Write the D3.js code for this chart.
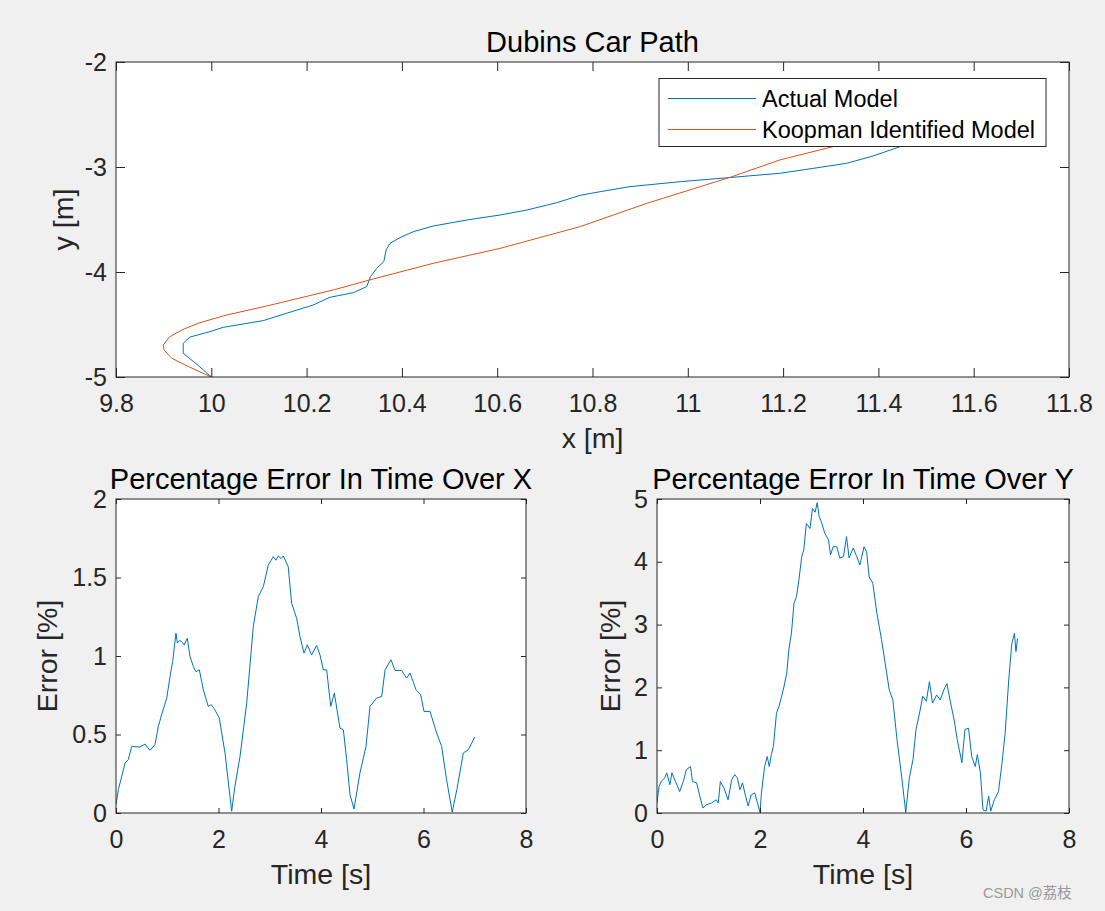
<!DOCTYPE html>
<html>
<head>
<meta charset="utf-8">
<script src="https://cdn.jsdelivr.net/npm/d3@7"></script>
<style>
  html, body { margin: 0; padding: 0; background: #f0f0f0; }
  svg { display: block; }
  text { font-family: "Liberation Sans", Arial, Helvetica, sans-serif; }
</style>
</head>
<body>
<svg id="chart" width="1105" height="911"></svg>
<script>
// ---------- DATA ----------
const actualX = [10.0, 9.97, 9.941, 9.941, 9.955, 9.997, 10.025, 10.067, 10.109, 10.158, 10.214, 10.249, 10.298, 10.326, 10.334, 10.347, 10.362, 10.367, 10.375, 10.396, 10.424, 10.466, 10.536, 10.606, 10.662, 10.725, 10.774, 10.816, 10.879, 10.984, 11.089, 11.193, 11.263, 11.333, 11.389, 11.442, 11.47];
const actualY = [-5.0, -4.88, -4.774, -4.68, -4.62, -4.568, -4.527, -4.495, -4.463, -4.393, -4.314, -4.241, -4.197, -4.14, -4.045, -3.965, -3.902, -3.79, -3.727, -3.673, -3.616, -3.562, -3.505, -3.457, -3.41, -3.34, -3.27, -3.235, -3.187, -3.14, -3.10, -3.06, -3.013, -2.965, -2.895, -2.812, -2.76];

const koopX = [10.0, 9.952, 9.917, 9.901, 9.899, 9.913, 9.941, 9.976, 10.032, 10.116, 10.256, 10.337, 10.466, 10.606, 10.774, 10.914, 11.089, 11.193, 11.305, 11.34];
const koopY = [-5.0, -4.90, -4.822, -4.743, -4.695, -4.616, -4.546, -4.483, -4.41, -4.324, -4.171, -4.07, -3.917, -3.775, -3.568, -3.346, -3.098, -2.933, -2.806, -2.76];

const errXTime = [0, 0.046, 0.176, 0.24, 0.306, 0.468, 0.566, 0.663, 0.76, 0.826, 0.89, 0.99, 1.054, 1.106, 1.17, 1.197, 1.24, 1.28, 1.33, 1.39, 1.444, 1.509, 1.56, 1.626, 1.704, 1.8, 1.86, 1.93, 2.016, 2.127, 2.257, 2.32, 2.42, 2.55, 2.68, 2.777, 2.875, 2.972, 3.07, 3.12, 3.167, 3.22, 3.265, 3.36, 3.428, 3.525, 3.59, 3.668, 3.733, 3.817, 3.915, 3.98, 4.045, 4.11, 4.19, 4.26, 4.37, 4.436, 4.5, 4.566, 4.644, 4.76, 4.878, 4.956, 5.086, 5.184, 5.25, 5.366, 5.444, 5.574, 5.67, 5.737, 5.854, 5.945, 6.01, 6.127, 6.257, 6.354, 6.45, 6.56, 6.65, 6.777, 6.875, 6.94, 7.0];
const errXValue = [0.053, 0.148, 0.318, 0.34, 0.424, 0.42, 0.439, 0.399, 0.435, 0.551, 0.626, 0.732, 0.87, 0.965, 1.145, 1.082, 1.10, 1.092, 1.07, 1.113, 0.997, 0.933, 0.90, 0.912, 0.785, 0.679, 0.69, 0.657, 0.604, 0.382, 0.011, 0.17, 0.36, 0.70, 1.19, 1.379, 1.442, 1.58, 1.633, 1.61, 1.637, 1.62, 1.637, 1.569, 1.336, 1.24, 1.124, 1.018, 1.071, 1.007, 1.067, 1.007, 0.912, 0.912, 0.679, 0.764, 0.541, 0.53, 0.34, 0.117, 0.025, 0.255, 0.424, 0.679, 0.732, 0.742, 0.912, 0.976, 0.908, 0.908, 0.859, 0.891, 0.785, 0.753, 0.647, 0.647, 0.509, 0.424, 0.212, 0.006, 0.148, 0.382, 0.403, 0.445, 0.484];

const errYTime = [0, 0.04, 0.08, 0.15, 0.19, 0.25, 0.29, 0.36, 0.44, 0.51, 0.57, 0.65, 0.69, 0.77, 0.83, 0.89, 0.96, 1.06, 1.15, 1.19, 1.23, 1.30, 1.38, 1.45, 1.51, 1.56, 1.61, 1.66, 1.72, 1.77, 1.83, 1.90, 1.94, 2.0, 2.03, 2.09, 2.14, 2.18, 2.22, 2.26, 2.32, 2.37, 2.42, 2.46, 2.52, 2.56, 2.61, 2.66, 2.71, 2.76, 2.81, 2.85, 2.90, 2.97, 3.02, 3.07, 3.11, 3.15, 3.19, 3.26, 3.33, 3.37, 3.42, 3.49, 3.55, 3.62, 3.68, 3.73, 3.81, 3.88, 3.94, 4.02, 4.07, 4.12, 4.19, 4.27, 4.36, 4.45, 4.51, 4.58, 4.66, 4.75, 4.83, 4.90, 4.97, 5.03, 5.11, 5.16, 5.23, 5.29, 5.35, 5.43, 5.50, 5.57, 5.63, 5.69, 5.77, 5.83, 5.92, 5.98, 6.05, 6.11, 6.18, 6.22, 6.28, 6.33, 6.39, 6.44, 6.48, 6.55, 6.63, 6.70, 6.76, 6.83, 6.89, 6.94, 6.97, 7.0];
const errYValue = [0.16, 0.42, 0.50, 0.56, 0.64, 0.45, 0.64, 0.50, 0.34, 0.50, 0.69, 0.74, 0.50, 0.48, 0.27, 0.08, 0.13, 0.16, 0.21, 0.16, 0.50, 0.40, 0.21, 0.53, 0.61, 0.56, 0.37, 0.48, 0.27, 0.11, 0.29, 0.32, 0.19, 0.01, 0.34, 0.74, 0.90, 0.74, 0.93, 1.06, 1.59, 1.70, 1.86, 1.99, 2.23, 2.60, 2.86, 3.34, 3.45, 3.74, 4.08, 4.19, 4.61, 4.53, 4.85, 4.79, 4.94, 4.72, 4.64, 4.45, 4.35, 4.11, 4.24, 4.24, 4.06, 4.08, 4.40, 4.06, 4.22, 4.08, 3.95, 4.24, 4.16, 3.76, 3.66, 3.18, 2.76, 2.28, 1.96, 1.80, 1.17, 0.58, 0.01, 0.56, 0.85, 1.33, 1.64, 1.86, 1.78, 2.09, 1.75, 1.88, 1.80, 1.96, 2.06, 1.80, 1.48, 1.17, 0.80, 1.33, 1.35, 0.90, 0.74, 0.93, 0.64, 0.05, 0.03, 0.27, 0.03, 0.21, 0.34, 0.80, 1.27, 2.12, 2.70, 2.86, 2.57, 2.78];

const topXTicks = [9.8, 10, 10.2, 10.4, 10.6, 10.8, 11, 11.2, 11.4, 11.6, 11.8];
const topXTickLabels = ["9.8", "10", "10.2", "10.4", "10.6", "10.8", "11", "11.2", "11.4", "11.6", "11.8"];
const topYTicks = [-5, -4, -3, -2];
const topYTickLabels = ["-5", "-4", "-3", "-2"];
const timeTicks = [0, 2, 4, 6, 8];
const timeTickLabels = ["0", "2", "4", "6", "8"];
const errXTicks = [0, 0.5, 1, 1.5, 2];
const errXTickLabels = ["0", "0.5", "1", "1.5", "2"];
const errYTicks = [0, 1, 2, 3, 4, 5];
const errYTickLabels = ["0", "1", "2", "3", "4", "5"];

const seriesNames = ["Actual Model", "Koopman Identified Model"];
const seriesColors = ["#0072BD", "#D95319"];

// ---------- DRAWING ----------
const svg = d3.select("#chart");
const AX = "#262626";
const TICK_FONT = 25;
const LABEL_FONT = 28.5;
const TITLE_FONT = 29;

function panel(cfg) {
  const g = svg.append("g");
  const x = d3.scaleLinear().domain(cfg.xDomain).range([cfg.left, cfg.right]);
  const y = d3.scaleLinear().domain(cfg.yDomain).range([cfg.bottom, cfg.top]);

  g.append("rect")
    .attr("x", cfg.left).attr("y", cfg.top)
    .attr("width", cfg.right - cfg.left).attr("height", cfg.bottom - cfg.top)
    .attr("fill", "#ffffff");

  const clipId = "clip" + Math.round(cfg.left) + "_" + Math.round(cfg.top);
  svg.append("clipPath").attr("id", clipId).append("rect")
    .attr("x", cfg.left).attr("y", cfg.top)
    .attr("width", cfg.right - cfg.left).attr("height", cfg.bottom - cfg.top);

  const lines = g.append("g").attr("clip-path", "url(#" + clipId + ")");
  cfg.series.forEach(s => {
    const pts = s.xs.map((v, i) => [v, s.ys[i]]);
    lines.append("path")
      .attr("d", d3.line().x(d => x(d[0])).y(d => y(d[1]))(pts))
      .attr("fill", "none")
      .attr("stroke", s.color)
      .attr("stroke-width", 1)
      .attr("stroke-linejoin", "round");
  });

  const tl = cfg.tickLen;
  const styleAxis = sel => {
    sel.select(".domain").remove();
    sel.selectAll(".tick line").attr("stroke", AX).attr("stroke-width", 1);
    sel.selectAll(".tick text").attr("fill", AX).style("font-size", TICK_FONT + "px")
      .style("font-family", '"Liberation Sans", Arial, sans-serif');
  };

  g.append("g").attr("transform", `translate(0,${cfg.bottom})`)
    .call(d3.axisBottom(x).tickValues(cfg.xTicks).tickFormat((d, i) => cfg.xLabels[i])
      .tickSizeInner(-tl).tickSizeOuter(0).tickPadding(17))
    .call(styleAxis);
  g.append("g").attr("transform", `translate(0,${cfg.top})`)
    .call(d3.axisTop(x).tickValues(cfg.xTicks).tickFormat("")
      .tickSizeInner(-tl).tickSizeOuter(0))
    .call(styleAxis);
  g.append("g").attr("transform", `translate(${cfg.left},0)`)
    .call(d3.axisLeft(y).tickValues(cfg.yTicks).tickFormat((d, i) => cfg.yLabels[i])
      .tickSizeInner(-tl).tickSizeOuter(0).tickPadding(9))
    .call(styleAxis);
  g.append("g").attr("transform", `translate(${cfg.right},0)`)
    .call(d3.axisRight(y).tickValues(cfg.yTicks).tickFormat("")
      .tickSizeInner(-tl).tickSizeOuter(0))
    .call(styleAxis);

  // legend
  if (cfg.legend) {
    const L = cfg.legend;
    const lg = g.append("g");
    lg.append("rect").attr("x", L.x).attr("y", L.y).attr("width", L.w).attr("height", L.h)
      .attr("fill", "#ffffff").attr("stroke", AX).attr("stroke-width", 1);
    cfg.series.forEach((s, i) => {
      const cy = L.y + 20 + i * 31;
      lg.append("line").attr("x1", L.x + 9).attr("x2", L.x + 97).attr("y1", cy).attr("y2", cy)
        .attr("stroke", s.color).attr("stroke-width", 1);
      lg.append("text").attr("x", L.x + 103).attr("y", cy).attr("dy", "0.36em")
        .attr("fill", "#000").style("font-size", "23.5px").text(s.name);
    });
  }

  // frame
  g.append("rect")
    .attr("x", cfg.left).attr("y", cfg.top)
    .attr("width", cfg.right - cfg.left).attr("height", cfg.bottom - cfg.top)
    .attr("fill", "none").attr("stroke", AX).attr("stroke-width", 1);

  // title
  g.append("text").attr("x", (cfg.left + cfg.right) / 2).attr("y", cfg.top - 10)
    .attr("text-anchor", "middle").attr("fill", "#000")
    .style("font-size", TITLE_FONT + "px").text(cfg.title);
  // x label
  g.append("text").attr("x", (cfg.left + cfg.right) / 2).attr("y", cfg.bottom + 71)
    .attr("text-anchor", "middle").attr("fill", AX)
    .style("font-size", LABEL_FONT + "px").text(cfg.xTitle);
  // y label
  g.append("text")
    .attr("transform", `translate(${cfg.yTitleX},${(cfg.top + cfg.bottom) / 2}) rotate(-90)`)
    .attr("text-anchor", "middle").attr("fill", AX)
    .style("font-size", LABEL_FONT + "px").text(cfg.yTitle);
}

panel({
  left: 116, right: 1069, top: 62, bottom: 377,
  xDomain: [9.8, 11.8], yDomain: [-5, -2],
  xTicks: topXTicks, xLabels: topXTickLabels,
  yTicks: topYTicks, yLabels: topYTickLabels,
  tickLen: 9,
  title: "Dubins Car Path", xTitle: "x [m]", yTitle: "y [m]", yTitleX: 73,
  series: [
    { xs: actualX, ys: actualY, color: seriesColors[0], name: seriesNames[0] },
    { xs: koopX, ys: koopY, color: seriesColors[1], name: seriesNames[1] }
  ],
  legend: { x: 659, y: 78.5, w: 387, h: 68 }
});

panel({
  left: 116, right: 526, top: 499, bottom: 813,
  xDomain: [0, 8], yDomain: [0, 2],
  xTicks: timeTicks, xLabels: timeTickLabels,
  yTicks: errXTicks, yLabels: errXTickLabels,
  tickLen: 5,
  title: "Percentage Error In Time Over X", xTitle: "Time [s]", yTitle: "Error [%]", yTitleX: 57,
  series: [{ xs: errXTime, ys: errXValue, color: seriesColors[0] }]
});

panel({
  left: 657, right: 1069, top: 499, bottom: 813,
  xDomain: [0, 8], yDomain: [0, 5],
  xTicks: timeTicks, xLabels: timeTickLabels,
  yTicks: errYTicks, yLabels: errYTickLabels,
  tickLen: 5,
  title: "Percentage Error In Time Over Y", xTitle: "Time [s]", yTitle: "Error [%]", yTitleX: 620,
  series: [{ xs: errYTime, ys: errYValue, color: seriesColors[0] }]
});

// watermark
svg.append("text").attr("x", 983).attr("y", 898).attr("fill", "#9a9a9a")
  .style("font-size", "14.5px")
  .style("font-family", '"Liberation Sans", "Noto Sans CJK SC", sans-serif')
  .text("CSDN @荔枝");
</script>
</body>
</html>
